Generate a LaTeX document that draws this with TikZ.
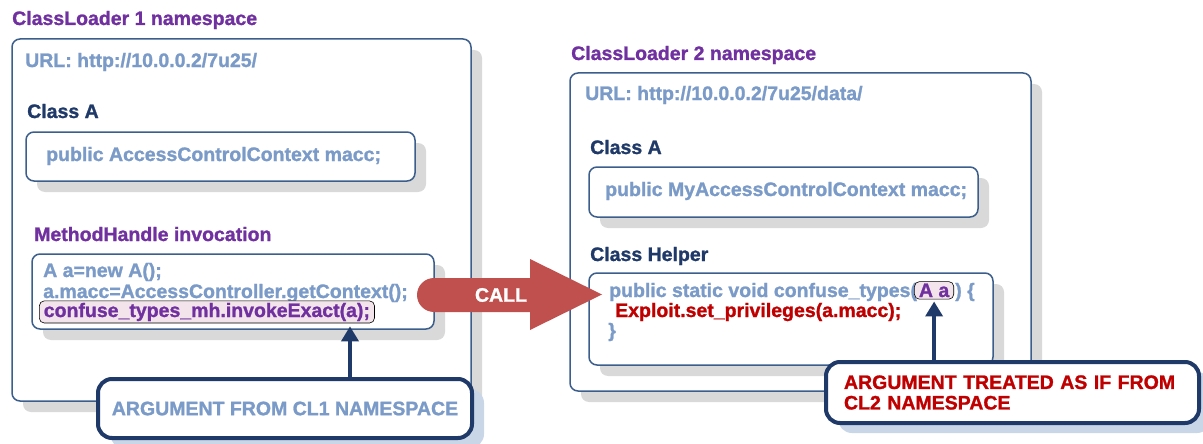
\documentclass[tikz,border=0pt]{standalone}
\usepackage{fontspec}
\setmainfont{Liberation Sans}[BoldFeatures={FakeBold=1.2}]
\usepackage{tikz}
\usetikzlibrary{arrows.meta,fit,shadows,positioning}

\definecolor{clpurple}{RGB}{112,48,160}
\definecolor{clnavy}{RGB}{31,58,104}
\definecolor{cllight}{RGB}{122,154,200}
\definecolor{clframe}{RGB}{59,94,140}
\definecolor{clshade}{RGB}{217,217,217}
\definecolor{clblueshade}{RGB}{200,214,232}
\definecolor{clcall}{RGB}{192,80,77}
\definecolor{clred}{RGB}{192,0,0}
\definecolor{clpink}{RGB}{242,228,234}

\tikzset{
  lbl/.style={font=\bfseries\fontsize{19.5}{20.5}\selectfont,inner sep=0pt,anchor=base west},
  panel/.style={draw=clframe,line width=1.5pt,fill=white,rounded corners=8pt,inner sep=0pt,
                drop shadow={shadow xshift=11pt,shadow yshift=-11pt,fill=clshade,opacity=1}},
  hilite/.style={lbl,draw=black,line width=0.6pt,fill=clpink,rounded corners=5pt,
                 inner xsep=4.5pt,inner ysep=2pt,text=clpurple},
  note/.style={lbl,anchor=center,draw=clnavy,line width=4pt,fill=white,rounded corners=14pt,
               drop shadow={shadow xshift=12pt,shadow yshift=-10pt,fill=clblueshade,opacity=1}},
  pointer/.style={draw=clnavy,line width=4pt,-{Triangle[length=15pt,width=17pt]}},
}

\begin{document}
\begin{tikzpicture}[x=1pt,y=-1pt]
\useasboundingbox (0,0) rectangle (1203,444);
%
% ClassLoader 1
%
  \node[lbl,text=clpurple] (t1) at (12,25) {ClassLoader 1 namespace};
  \node[panel,fit={(12,39) (471,401)}] (cl1) {};
  \node[lbl,text=cllight] (u1) at (25,67) {URL: http://10.0.0.2/7u25/};
  \node[lbl,text=clnavy] (a1) at (27,118) {Class A};
  \node[panel,fit={(26,132) (415,181)}] (fa1) {};
  \node[lbl,text=cllight] (f1) at (46,161) {public AccessControlContext macc;};
  \node[lbl,text=clpurple] (mh) at (34,241) {MethodHandle invocation};
  \node[panel,fit={(32,254) (434,329)}] (mb) {};
  \node[lbl,text=cllight] (l1) at (43,277) {A a=new A();};
  \node[lbl,text=cllight] (l2) at (43,298) {a.macc=AccessController.getContext();};
  \node[hilite] (inv) at (39,317) {confuse\_types\_mh.invokeExact(a);};
%
% ClassLoader 2
%
  \node[lbl,text=clpurple] (t2) at (571,60) {ClassLoader 2 namespace};
  \node[panel,fit={(570,73) (1031,391)}] (cl2) {};
  \node[lbl,text=cllight] (u2) at (585,100) {URL: http://10.0.0.2/7u25/data/};
  \node[lbl,text=clnavy] (a2) at (590,154) {Class A};
  \node[panel,fit={(589,167) (978,217)}] (fa2) {};
  \node[lbl,text=cllight] (f2) at (605,196) {public MyAccessControlContext macc;};
  \node[lbl,text=clnavy] (hp) at (590,261) {Class Helper};
  \node[panel,fit={(589,273) (993,365)}] (hb) {};
  \node[lbl,text=cllight] (h1) at (609,297) {public static void confuse\_types(};
  \node[hilite] (arg) at ([xshift=-3pt]h1.base east) {A a};
  \node[lbl,text=cllight] (h1b) at ([xshift=1pt]arg.base east) {) \{};
  \node[lbl,text=clred] (h2) at (615,317) {Exploit.set\_privileges(a.macc);};
  \node[lbl,text=cllight] (h3) at (608,337) {\}};
%
% the call
%
  \fill[clcall,rounded corners=17pt] (417,278) rectangle (548,312);
  \fill[clcall] (530,259) -- (602,294.5) -- (530,330) -- cycle;
  \node[lbl,anchor=center,text=white] (call) at (501,295) {CALL};
%
% notes
%
  \node[note,minimum width=374pt,minimum height=59pt,text=cllight] (n1) at (285,408.5)
       {ARGUMENT FROM CL1 NAMESPACE};
  \node[note,minimum width=373pt,minimum height=61pt,text width=337pt,align=left,text=clred]
       (n2) at (1012.5,392.5) {ARGUMENT TREATED AS IF FROM\\CL2 NAMESPACE};
  \draw[pointer] ([xshift=65pt]n1.north) -- ([xshift=65pt,yshift=-3pt]n1.north |- inv.south);
  \draw[pointer] (arg.south |- n2.north) -- ([yshift=-2pt]arg.south);

\end{tikzpicture}
\end{document}
